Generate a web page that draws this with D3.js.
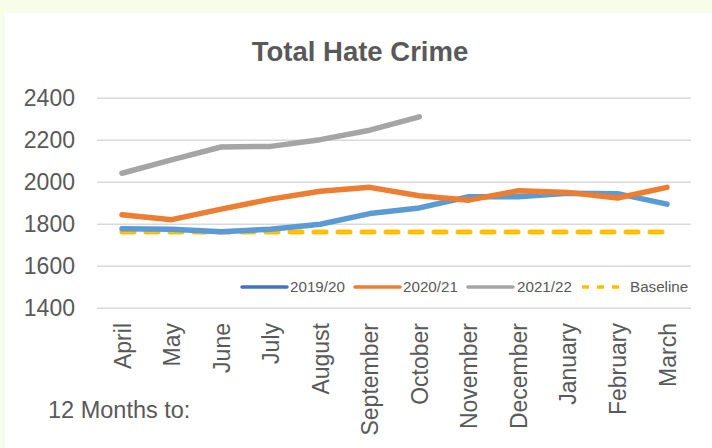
<!DOCTYPE html>
<html>
<head>
<meta charset="utf-8">
<script src="https://cdn.jsdelivr.net/npm/d3@7"></script>
<style>
  html, body { margin: 0; padding: 0; background: #f7fde8; }
  svg { display: block; }
  text { font-family: Arial, "Liberation Sans", sans-serif; }
</style>
</head>
<body>
<svg id="chart" width="712" height="448"></svg>
<script>
const months = ["April","May","June","July","August","September","October","November","December","January","February","March"];
const s2019 = [1779, 1777, 1765, 1776, 1800, 1851, 1878, 1931, 1931, 1948, 1946, 1896];
const s2020 = [1845, 1822, 1872, 1920, 1957, 1976, 1936, 1915, 1960, 1952, 1925, 1976];
const s2021 = [2043, 2107, 2168, 2171, 2203, 2248, 2312];
const baseline = [1763, 1763, 1763, 1763, 1763, 1763, 1763, 1763, 1763, 1763, 1763, 1763];
const yTicks = [1400, 1600, 1800, 2000, 2200, 2400];
const seriesNames = ["2019/20", "2020/21", "2021/22", "Baseline"];

const svg = d3.select("#chart");
svg.append("rect").attr("x", 5).attr("y", 13).attr("width", 707).attr("height", 435).attr("fill", "#ffffff");

const x = d3.scalePoint().domain(months).range([122, 667]);
const y = d3.scaleLinear().domain([1400, 2400]).range([308.3, 98.3]);

// gridlines
svg.append("g").selectAll("line").data(yTicks).join("line")
  .attr("x1", 97).attr("x2", 691)
  .attr("y1", d => y(d)).attr("y2", d => y(d))
  .attr("stroke", "#d9d9d9").attr("stroke-width", 1.5);

// y axis labels
const yAxis = d3.axisLeft(y).tickValues(yTicks).tickSize(0).tickPadding(0).tickFormat(d3.format("d"));
const gy = svg.append("g").attr("transform", "translate(75,0)").call(yAxis);
gy.select(".domain").remove();
gy.selectAll("text").attr("font-size", 23).attr("fill", "#595959")
  .attr("font-family", "Arial, 'Liberation Sans', sans-serif");

// x axis labels
const xAxis = d3.axisBottom(x).tickSize(0).tickPadding(0);
const gx = svg.append("g").attr("transform", "translate(0,323)").call(xAxis);
gx.select(".domain").remove();
gx.selectAll("text")
  .attr("font-size", 23).attr("fill", "#595959")
  .attr("font-family", "Arial, 'Liberation Sans', sans-serif")
  .attr("text-anchor", "end")
  .attr("transform", "rotate(-90)")
  .attr("x", 0).attr("y", 0).attr("dy", "0.35em");

// lines
const line = d3.line().x((d, i) => x(months[i])).y(d => y(d));
const series = [
  {data: s2019, color: "#5b9bd5"},
  {data: s2020, color: "#ed7d31"},
  {data: s2021, color: "#a5a5a5"}
];
svg.append("path").datum(baseline).attr("d", line)
  .attr("fill", "none").attr("stroke", "#ffc000").attr("stroke-width", 5)
  .attr("stroke-linecap", "round").attr("stroke-dasharray", "12,12");
series.forEach(s => {
  svg.append("path").datum(s.data).attr("d", line)
    .attr("fill", "none").attr("stroke", s.color).attr("stroke-width", 5.5)
    .attr("stroke-linecap", "round").attr("stroke-linejoin", "round");
});

// title
svg.append("text").attr("x", 360).attr("y", 61).attr("text-anchor", "middle")
  .attr("font-size", 27.5).attr("font-weight", "bold").attr("fill", "#595959")
  .text("Total Hate Crime");

// legend
const legendItems = [
  {name: seriesNames[0], color: "#4472c4", x1: 242, x2: 287, tx: 290, dash: null},
  {name: seriesNames[1], color: "#ed7d31", x1: 355, x2: 400, tx: 403, dash: null},
  {name: seriesNames[2], color: "#a5a5a5", x1: 468, x2: 513, tx: 517, dash: null},
  {name: seriesNames[3], color: "#ffc000", x1: 582, x2: 620, tx: 630, dash: "7,8"}
];
const lg = svg.append("g");
legendItems.forEach(it => {
  const l = lg.append("line").attr("x1", it.x1).attr("x2", it.x2).attr("y1", 287).attr("y2", 287)
    .attr("stroke", it.color).attr("stroke-width", 3.5).attr("stroke-linecap", "round");
  if (it.dash) l.attr("stroke-dasharray", it.dash).attr("stroke-linecap", "butt");
  lg.append("text").attr("x", it.tx).attr("y", 292).attr("font-size", 15.2).attr("fill", "#595959").text(it.name);
});

// footer text
svg.append("text").attr("x", 48).attr("y", 418).attr("font-size", 23.5).attr("fill", "#595959").text("12 Months to:");
</script>
</body>
</html>
